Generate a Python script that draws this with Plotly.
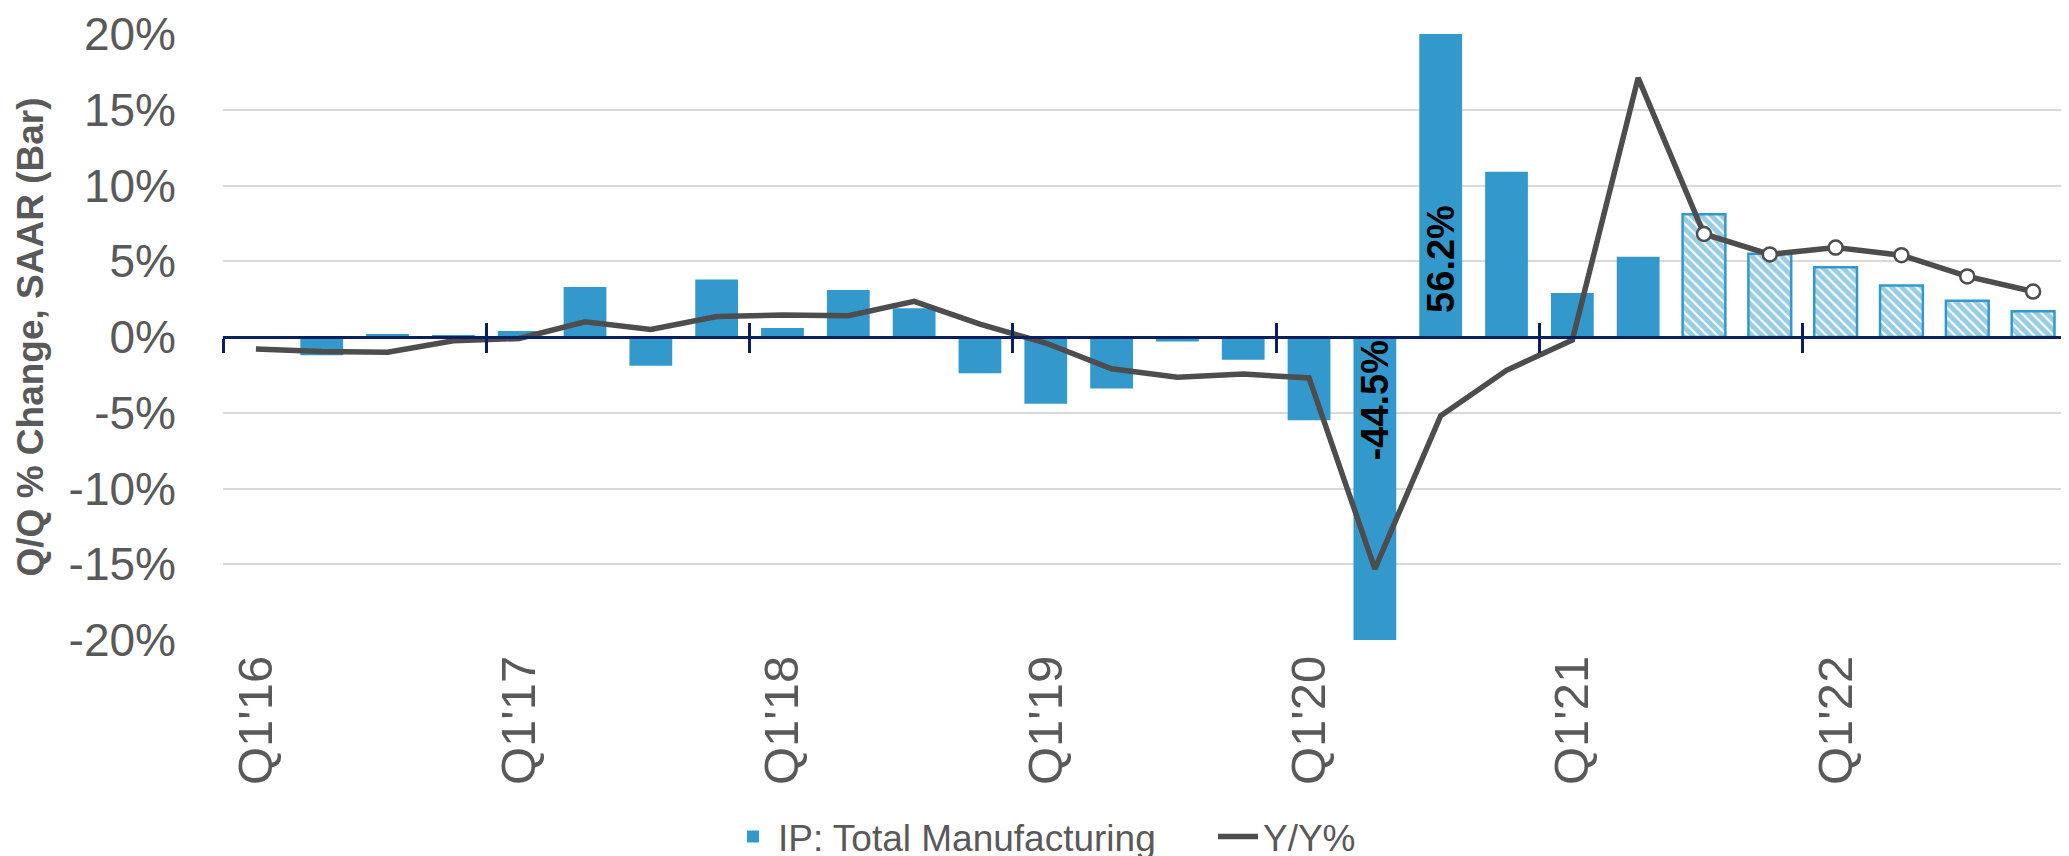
import plotly.graph_objects as go

# ---------------- data ----------------
quarters = [f"Q{q}'{y}" for y in range(16, 23) for q in range(1, 5)]
qq_saar = [-0.1, -1.2, 0.2, 0.1,
           0.4, 3.3, -1.9, 3.8,
           0.6, 3.1, 1.9, -2.4,
           -4.4, -3.4, -0.3, -1.5,
           -5.5, -44.5, 56.2, 10.9,
           2.9, 5.3, 8.1, 5.5,
           4.6, 3.4, 2.4, 1.7]
yy_pct = [-0.8, -0.95, -1.0, -0.25,
          -0.1, 1.0, 0.5, 1.35,
          1.45, 1.4, 2.35, 0.85,
          -0.4, -2.1, -2.65, -2.45,
          -2.7, -15.3, -5.2, -2.2,
          -0.2, 17.1, 6.8, 5.45,
          5.9, 5.4, 4.0, 3.0]
forecast_start = "Q3'21"
y_range = [-20, 20]
y_ticks = [-20, -15, -10, -5, 0, 5, 10, 15, 20]

# ---------------- styling ----------------
BLUE = "#3399CC"
LINE = "#4D4D4D"
NAVY = "#0B1F5E"
TXT = "#595959"
FONT = "Liberation Sans"
NBSP = "\u00a0"

n = len(quarters)
xs = list(range(n))
fidx = quarters.index(forecast_start)
is_fc = [i >= fidx for i in xs]


def clip_label(v):
    if v > y_range[1]:
        return NBSP * 2 + f"{v:.1f}%"
    if v < y_range[0]:
        return f"{v:.1f}%"
    return ""


bar_text = [clip_label(v) for v in qq_saar]

fig = go.Figure()
fig.add_trace(go.Bar(
    x=xs, y=qq_saar, name="IP: Total Manufacturing",
    marker=dict(
        color=BLUE,
        line=dict(color=BLUE, width=[2.5 if f else 0 for f in is_fc]),
        pattern=dict(shape=["\\" if f else "" for f in is_fc],
                     bgcolor="white", fgcolor=BLUE, size=7, solidity=0.72),
    ),
    text=bar_text, textposition="inside", insidetextanchor="start",
    textangle=-90, constraintext="none",
    textfont=dict(family=FONT, size=38, color="black", weight="bold"),
    cliponaxis=True, hoverinfo="skip",
))
fig.add_trace(go.Scatter(
    x=xs, y=yy_pct, name="Y/Y%", mode="lines",
    line=dict(color=LINE, width=5.5),
))
fig.add_trace(go.Scatter(
    x=[x for x in xs if is_fc[x]], y=[yy_pct[x] for x in xs if is_fc[x]],
    mode="markers", showlegend=False,
    marker=dict(color="white", size=14, line=dict(color=LINE, width=2.5)),
))
# invisible helpers for the crossing tick axes
for ax in ("x2", "x3"):
    fig.add_trace(go.Scatter(x=[None], y=[None], xaxis=ax, yaxis="y",
                             showlegend=False, hoverinfo="skip"))

xr = [-0.5, n - 0.5]
boundaries = [b - 0.5 for b in range(0, n + 1, 4)]
zero_pos = (0 - y_range[0]) / (y_range[1] - y_range[0])

fig.update_layout(
    width=2069, height=856,
    margin=dict(l=215, r=11, t=26, b=224, autoexpand=False),
    paper_bgcolor="white", plot_bgcolor="white",
    bargap=0.35,
    font=dict(family=FONT, color=TXT),
    xaxis=dict(
        range=xr, tickvals=xs[::4], ticktext=quarters[::4],
        tickangle=-90, tickfont=dict(size=49, color=TXT),
        showgrid=False, showline=False, zeroline=False, ticks="",
        ticklabelstandoff=5, automargin=False,
    ),
    xaxis2=dict(
        overlaying="x", anchor="free", position=zero_pos, range=xr,
        tickvals=boundaries, ticks="outside", ticklen=14, tickwidth=3,
        tickcolor=NAVY, showticklabels=False, showline=True,
        linecolor=NAVY, linewidth=3, showgrid=False, zeroline=False,
    ),
    xaxis3=dict(
        overlaying="x", anchor="free", position=zero_pos, range=xr,
        tickvals=boundaries, ticks="inside", ticklen=14, tickwidth=3,
        tickcolor=NAVY, showticklabels=False, showline=False,
        showgrid=False, zeroline=False,
    ),
    yaxis=dict(
        range=y_range, tickvals=y_ticks, ticktext=[f"{v}%" for v in y_ticks],
        tickfont=dict(size=46, color=TXT),
        showgrid=True, gridcolor="#D9D9D9", gridwidth=2,
        zeroline=False, showline=False, ticks="",
        ticklabelstandoff=46, automargin=False,
        title=dict(text="Q/Q % Change, SAAR (Bar)", standoff=13,
                   font=dict(size=37, color=TXT, weight="bold")),
    ),
    legend=dict(
        orientation="h", x=0.274, xanchor="left", y=-0.325, yanchor="middle",
        font=dict(size=37, color=TXT), bgcolor="rgba(0,0,0,0)",
        itemwidth=40, entrywidth=430,
    ),
    showlegend=True,
)

fig.write_html("out.html")
